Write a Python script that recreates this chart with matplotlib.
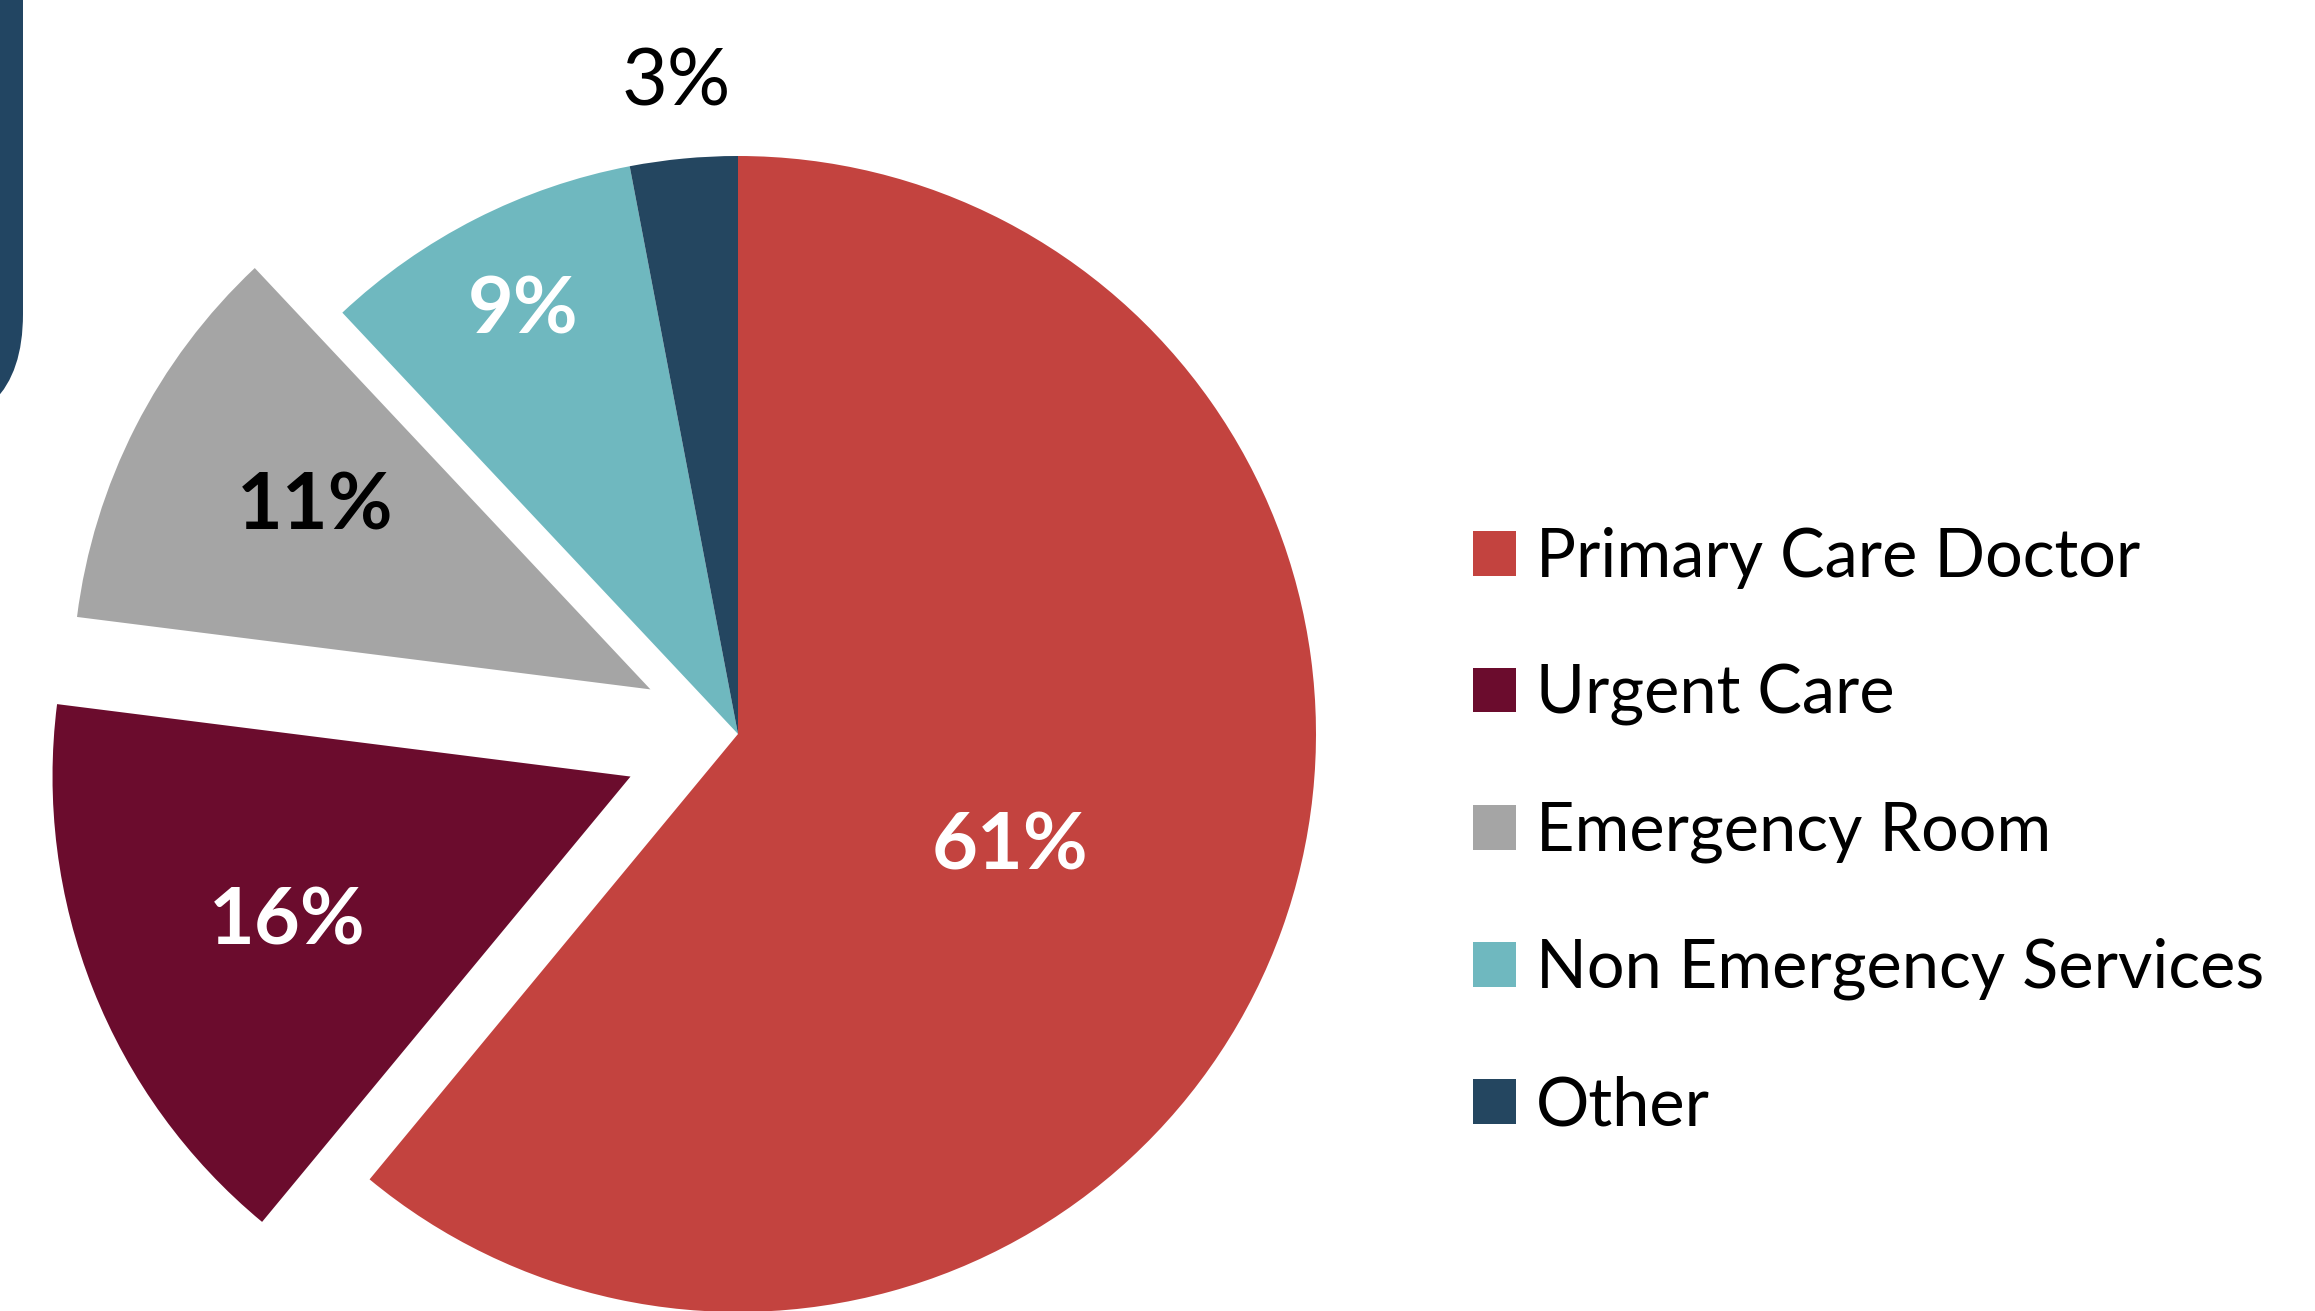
import numpy as np
import matplotlib
matplotlib.use("Agg")
import matplotlib.pyplot as plt
from matplotlib.patches import FancyBboxPatch

plt.rcParams['font.family'] = ['Lato', 'DejaVu Sans']

# data
categories = ["Primary Care Doctor", "Urgent Care", "Emergency Room",
              "Non Emergency Services", "Other"]
shares = [61, 16, 11, 9, 3]
colors = ["#C3433F", "#6B0C2D", "#A5A5A5", "#6FB8BF", "#244660"]
explode = [0, 0.2, 0.17, 0, 0]

# label look (position as fraction of radius from the slice centre)
label_r = [0.51, 0.645, 0.66, 0.82, 1.13]
label_dang = [-2.8, 1.5, -1.5, 0, 0]
label_color = ["white", "white", "black", "white", "black"]
label_weight = ["bold", "bold", "bold", "bold", "normal"]

W, H = 2315, 1311
fig = plt.figure(figsize=(W / 100, H / 100), dpi=100)
ax = fig.add_axes([0, 0, 1, 1])

# slide decoration: the cut-off dark box in the top left corner
box = FancyBboxPatch((-200 / W, 1 - 430 / H), 223 / W, 600 / H,
                     boxstyle="round,pad=0,rounding_size=0.05",
                     transform=fig.transFigure, facecolor="#224562",
                     edgecolor="none", mutation_aspect=W / H)
fig.patches.append(box)

wedges, texts, autotexts = ax.pie(shares, colors=colors, explode=explode,
                                  startangle=90, counterclock=False,
                                  autopct="%d%%", pctdistance=0.6,
                                  wedgeprops=dict(linewidth=0))

# place the percentage labels
for i, (w, t) in enumerate(zip(wedges, autotexts)):
    mid = np.deg2rad((w.theta1 + w.theta2) / 2 + label_dang[i])
    cx, cy = w.center
    t.set_position((cx + label_r[i] * np.cos(mid), cy + label_r[i] * np.sin(mid)))
    t.set_color(label_color[i])
    t.set_fontweight(label_weight[i])
    t.set_fontsize(57)
    t.set_ha("center")
    t.set_va("center")

# map data units to pixels: centre at (738, 734) from top-left, radius 578 px
R = 578.0
cx_px, cy_px = 738.0, 734.0
ax.set_xlim(-cx_px / R, (W - cx_px) / R)
ax.set_ylim(-(H - cy_px) / R, cy_px / R)
ax.set_aspect("auto")
ax.axis("off")

leg = ax.legend(wedges, categories, loc="center left",
                bbox_to_anchor=(1473 / W, 1 - 832 / H),
                bbox_transform=fig.transFigure, frameon=False,
                fontsize=48, borderpad=0, borderaxespad=0,
                handlelength=0.65, handleheight=0.65, handletextpad=0.3,
                labelspacing=1.12)

plt.savefig("out.png", dpi=100)
